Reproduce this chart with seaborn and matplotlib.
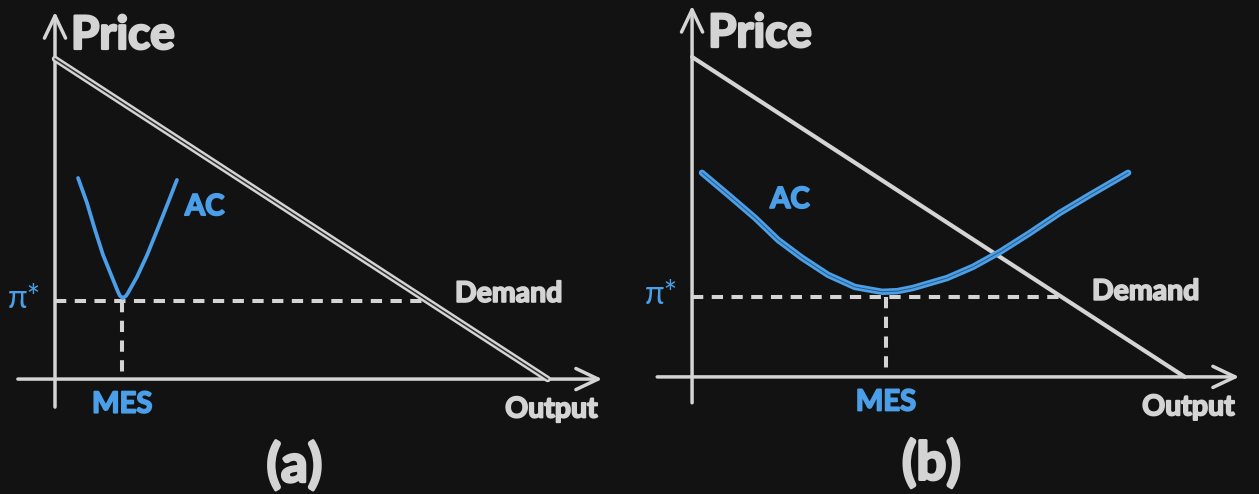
import numpy as np
import pandas as pd
import matplotlib
matplotlib.use("Agg")
import matplotlib.pyplot as plt
import matplotlib.patheffects as pe
import seaborn as sns
from matplotlib.patches import FancyArrowPatch

# ---------------- data ----------------
panels = ["(a)", "(b)"]
# demand line: price intercept and output intercept (same in both panels)
demand_price = [10.0, 0.0]
demand_output = [0.0, 15.4]
# average cost curve, panel (a): steep, minimum at small output
ac_a_output = [0.72, 1.00, 1.25, 1.50, 1.78, 1.97, 2.03, 2.12, 2.22, 2.28, 2.56, 2.88, 3.22, 3.53, 3.81]
ac_a_price = [6.28, 5.50, 4.66, 3.88, 3.19, 2.72, 2.60, 2.53, 2.60, 2.69, 3.19, 3.88, 4.72, 5.50, 6.22]
# average cost curve, panel (b): wide, minimum at large output
ac_b_output = [0.31, 1.13, 1.97, 2.69, 3.44, 4.25, 5.09, 5.94, 6.41, 6.91, 7.97, 8.78, 9.63,
               10.56, 11.50, 12.44, 13.63]
ac_b_price = [6.38, 5.69, 4.97, 4.28, 3.72, 3.19, 2.81, 2.66, 2.68, 2.78, 3.09, 3.44, 3.91,
              4.50, 5.13, 5.69, 6.38]
# minimum efficient scale and the corresponding price
mes = [2.10, 6.06]
pi_star = [2.45, 2.50]

BG = "#121212"
FG = "#d4d4d4"
BLUE = "#4a9fe8"

sns.set_theme(style="dark", rc={"figure.facecolor": BG, "axes.facecolor": BG})
plt.rcParams["font.family"] = ["Lato", "DejaVu Sans"]

fig = plt.figure(figsize=(12.59, 4.94), dpi=100)
fig.patch.set_facecolor(BG)

layout = [
    dict(rect=[0.0, 0.0, 630 / 1259, 1.0], xlim=(-1.719, 17.97), ylim=(-3.59, 11.84),
         yax=(-0.875, 11.47), xax=(-1.16, 17.1)),
    dict(rect=[630 / 1259, 0.0, 629 / 1259, 1.0], xlim=(-1.94, 17.72), ylim=(-3.66, 11.78),
         yax=(-0.81, 11.6), xax=(-1.09, 17.1)),
]
ac_data = [(ac_a_output, ac_a_price), (ac_b_output, ac_b_price)]
HEAVY = "bold"


def bold_fx(color, w=1.3):
    return [pe.withStroke(linewidth=w, foreground=color)]


def arrow(ax, start, end):
    ax.add_patch(FancyArrowPatch(start, end, arrowstyle="->,head_length=0.8,head_width=0.38",
                                 mutation_scale=20, lw=2.5, color=FG, shrinkA=0, shrinkB=0,
                                 capstyle="round", joinstyle="round", zorder=3))


for i, lay in enumerate(layout):
    ax = fig.add_axes(lay["rect"])
    ax.set_facecolor(BG)
    ax.set_xlim(*lay["xlim"])
    ax.set_ylim(*lay["ylim"])
    ax.set_axis_off()

    arrow(ax, (0, lay["yax"][0]), (0, lay["yax"][1]))
    arrow(ax, (lay["xax"][0], 0), (lay["xax"][1], 0))

    dd = pd.DataFrame({"Output": demand_output, "Price": demand_price})
    if i == 0:
        sns.lineplot(data=dd, x="Output", y="Price", ax=ax, color=FG, lw=4.6,
                     solid_capstyle="round", zorder=4)
        sns.lineplot(data=dd, x="Output", y="Price", ax=ax, color=BG, lw=1.1,
                     alpha=0.85, zorder=4.5)
    else:
        sns.lineplot(data=dd, x="Output", y="Price", ax=ax, color=FG, lw=3.0,
                     solid_capstyle="round", zorder=4)

    ac = pd.DataFrame({"Output": ac_data[i][0], "Price": ac_data[i][1]})
    if i == 0:
        sns.lineplot(data=ac, x="Output", y="Price", ax=ax, color=BLUE, lw=2.7, sort=False,
                     solid_capstyle="round", solid_joinstyle="round", zorder=5)
    else:
        sns.lineplot(data=ac, x="Output", y="Price", ax=ax, color=BLUE, lw=4.6, sort=False,
                     solid_capstyle="round", solid_joinstyle="round", zorder=5)
        sns.lineplot(data=ac, x="Output", y="Price", ax=ax, color=BG, lw=0.7, sort=False,
                     alpha=0.5, solid_joinstyle="round", zorder=5.5)

    q_at_pi = demand_output[1] * (1 - pi_star[i] / demand_price[0])
    ax.plot([0, q_at_pi], [pi_star[i], pi_star[i]], color=FG, lw=2.9,
            ls=(0, (2.8, 2.1)), zorder=2)
    ax.plot([mes[i], mes[i]], [pi_star[i], 0], color=FG, lw=2.9,
            ls=(0, (2.8, 2.1)), zorder=2)

    ax.text(0.5, 10.72, "Price", color=FG, fontsize=33, fontweight=HEAVY,
            ha="left", va="center", path_effects=bold_fx(FG, 1.8))
    ac_lab = (4.06, 5.37) if i == 0 else (2.44, 5.53)
    ax.text(*ac_lab, "AC", color=BLUE, fontsize=21, fontweight=HEAVY, ha="left", va="center",
            path_effects=bold_fx(BLUE))
    ax.text(12.5, 2.66, "Demand", color=FG, fontsize=20.5, fontweight=HEAVY,
            ha="left", va="center", path_effects=bold_fx(FG))
    ax.text(15.52, -0.95, "Output", color=FG, fontsize=20.5, fontweight=HEAVY,
            ha="center", va="center", path_effects=bold_fx(FG))
    ax.text(mes[i], -0.8, "MES", color=BLUE, fontsize=21, fontweight=HEAVY,
            ha="center", va="center", path_effects=bold_fx(BLUE))
    ax.text(-0.95, pi_star[i] + 0.05, "π*", color=BLUE, fontsize=23,
            ha="center", va="center")
    ax.text(7.48, -2.7, panels[i], color=FG, fontsize=38, fontweight=HEAVY,
            ha="center", va="center", path_effects=bold_fx(FG, 2.0))

fig.savefig("out.png", dpi=100, facecolor=BG)
